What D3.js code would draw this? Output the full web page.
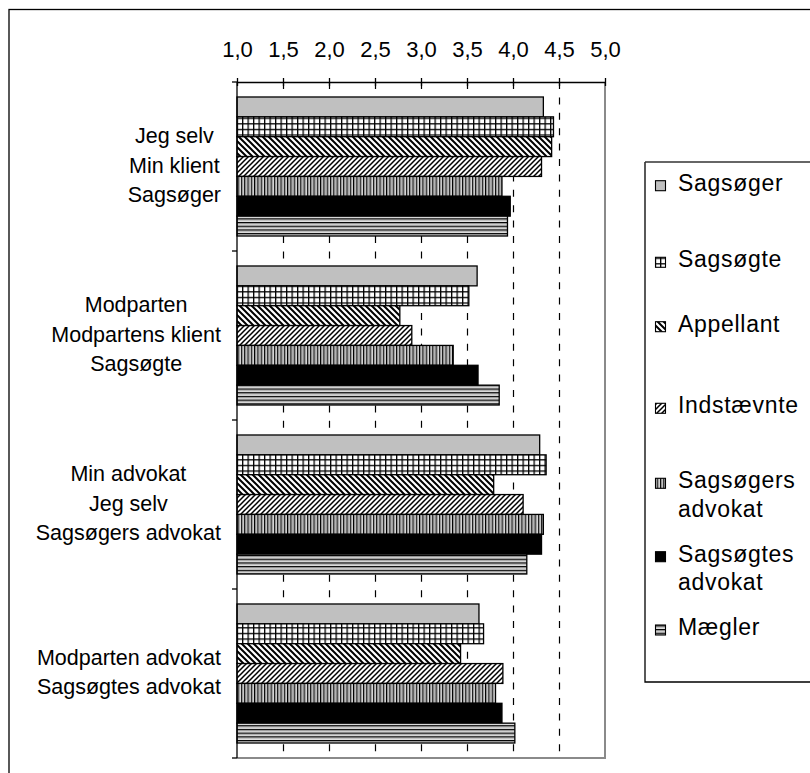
<!DOCTYPE html>
<html><head><meta charset="utf-8">
<script src="https://cdn.jsdelivr.net/npm/d3@7"></script>
<style>
html,body{margin:0;padding:0;background:#fff;}
svg{display:block;font-family:"Liberation Sans",Arial,sans-serif;}
</style></head>
<body><svg id="c" width="810" height="773"></svg>
<script>
// ---- data ----
const categories = ["Jeg selv\nMin klient\nSagsøger", "Modparten\nModpartens klient\nSagsøgte", "Min advokat\nJeg selv\nSagsøgers advokat", "Modparten advokat\nSagsøgtes advokat"];
const seriesNames = ["Sagsøger", "Sagsøgte", "Appellant", "Indstævnte", "Sagsøgers advokat", "Sagsøgtes advokat", "Mægler"];
const legendLabels = ["Sagsøger", "Sagsøgte", "Appellant", "Indstævnte", "Sagsøgers\nadvokat", "Sagsøgtes\nadvokat", "Mægler"];
const sagsoger     = [4.33, 3.61, 4.29, 3.63];
const sagsogte     = [4.44, 3.52, 4.36, 3.68];
const appellant    = [4.42, 2.77, 3.79, 3.43];
const indstaevnte  = [4.31, 2.90, 4.11, 3.89];
const sagsogersAdv = [3.88, 3.35, 4.33, 3.81];
const sagsogtesAdv = [3.97, 3.62, 4.31, 3.88];
const maegler      = [3.94, 3.85, 4.15, 4.02];
const tickValues = [1.0, 1.5, 2.0, 2.5, 3.0, 3.5, 4.0, 4.5, 5.0];
const tickLabels = ["1,0", "1,5", "2,0", "2,5", "3,0", "3,5", "4,0", "4,5", "5,0"];

const seriesValues = [sagsoger, sagsogte, appellant, indstaevnte, sagsogersAdv, sagsogtesAdv, maegler];
const fills = ["#c0c0c0", "url(#pGrid)", "url(#pBack)", "url(#pFwd)", "url(#pVert)", "#000", "url(#pHoriz)"];

// ---- layout ----
const svg = d3.select("#c");
const plot = {left: 237, right: 605, top: 82, bottom: 758};

// patterns
const defs = svg.append("defs");
function pat(id, w, h, draw) {
  const p = defs.append("pattern").attr("id", id).attr("patternUnits", "userSpaceOnUse")
    .attr("width", w).attr("height", h);
  draw(p);
}
pat("pGrid", 5.5, 5.6, p => {
  p.append("rect").attr("width", 5.5).attr("height", 5.6).attr("fill", "#fff");
  p.append("rect").attr("x", 0).attr("y", 0).attr("width", 1.3).attr("height", 5.6).attr("fill", "#000");
  p.append("rect").attr("x", 0).attr("y", 0).attr("width", 5.5).attr("height", 1.3).attr("fill", "#000");
});
pat("pBack", 6, 6, p => {
  p.append("rect").attr("width", 6).attr("height", 6).attr("fill", "#fff");
  p.append("path").attr("d", "M-1,-1L7,7M-4,2L2,8M4,-2L10,4").attr("stroke", "#000").attr("stroke-width", 2);
});
pat("pFwd", 5, 5, p => {
  p.append("rect").attr("width", 5).attr("height", 5).attr("fill", "#fff");
  p.append("path").attr("d", "M-1,6L6,-1M-3,3L3,-3M2,8L8,2").attr("stroke", "#000").attr("stroke-width", 1.5);
});
pat("pVert", 3.3, 10, p => {
  p.append("rect").attr("width", 3.3).attr("height", 10).attr("fill", "#d8d8d8");
  p.append("rect").attr("x", 0).attr("width", 1.1).attr("height", 10).attr("fill", "#000");
  p.append("rect").attr("x", 1.1).attr("width", 1).attr("height", 10).attr("fill", "#888");
});
pat("pHoriz", 10, 3.7, p => {
  p.append("rect").attr("width", 10).attr("height", 3.7).attr("fill", "#e0e0e0");
  p.append("rect").attr("y", 0).attr("width", 10).attr("height", 1.1).attr("fill", "#000");
  p.append("rect").attr("y", 1.1).attr("width", 10).attr("height", 1).attr("fill", "#888");
});

// chart area border (extends beyond the picture on right/bottom)
svg.append("rect").attr("x", 9).attr("y", 9.5).attr("width", 850).attr("height", 800)
  .attr("fill", "#fff").attr("stroke", "#000").attr("stroke-width", 1.3);

const x = d3.scaleLinear().domain([1, 5]).range([plot.left, plot.right]);
const y0 = d3.scaleBand().domain(d3.range(categories.length)).range([plot.top, plot.bottom]).padding(0);
const y1 = d3.scaleBand().domain(d3.range(seriesNames.length)).range([0, y0.bandwidth()])
  .paddingInner(0).paddingOuter(0.755);

// plot area
svg.append("rect").attr("x", plot.left).attr("y", plot.top)
  .attr("width", plot.right - plot.left).attr("height", plot.bottom - plot.top).attr("fill", "#fff");

// gridlines
svg.append("g").selectAll("line").data(tickValues.filter(v => v > 1 && v < 5)).join("line")
  .attr("x1", d => Math.round(x(d)) + 0.5).attr("x2", d => Math.round(x(d)) + 0.5)
  .attr("y1", plot.top).attr("y2", plot.bottom)
  .attr("stroke", "#000").attr("stroke-width", 1.2).attr("stroke-dasharray", "7 8.4");

// plot border right/bottom
svg.append("path").attr("d", `M${plot.right},${plot.top}V${plot.bottom}H${plot.left}`)
  .attr("fill", "none").attr("stroke", "#8a8a8a").attr("stroke-width", 2);

// bars
const gBars = svg.append("g");
categories.forEach((c, ci) => {
  seriesValues.forEach((vals, si) => {
    gBars.append("rect")
      .attr("x", x(1)).attr("y", y0(ci) + y1(si))
      .attr("width", x(vals[ci]) - x(1)).attr("height", y1.bandwidth())
      .attr("fill", fills[si]).attr("stroke", "#000").attr("stroke-width", 1.3);
  });
});

// top value axis
const xAxis = d3.axisTop(x).tickValues(tickValues).tickSize(0).tickFormat((d, i) => tickLabels[i]);
const ga = svg.append("g").attr("transform", `translate(0,${plot.top})`).call(xAxis);
ga.select(".domain").attr("stroke", "#000").attr("stroke-width", 1.3);
ga.selectAll(".tick text").attr("font-size", 22).attr("fill", "#000")
  .attr("font-family", '"Liberation Sans",Arial,sans-serif').attr("y", -25).attr("dy", 0);
ga.selectAll(".tick").append("line").attr("y1", -4).attr("y2", 4).attr("stroke", "#000").attr("stroke-width", 1.3);

// category axis
svg.append("line").attr("x1", plot.left).attr("x2", plot.left).attr("y1", plot.top).attr("y2", plot.bottom)
  .attr("stroke", "#000").attr("stroke-width", 1.3);
const bounds = d3.range(categories.length + 1).map(i => plot.top + i * y0.step());
svg.append("g").selectAll("line").data(bounds).join("line")
  .attr("x1", plot.left - 5).attr("x2", plot.left).attr("y1", d => d).attr("y2", d => d)
  .attr("stroke", "#000").attr("stroke-width", 1.3);

// category labels: block right-aligned, lines centered
const lineH = 29.5;
categories.forEach((c, ci) => {
  const lines = c.split("\n");
  const g = svg.append("g");
  const texts = lines.map((ln, li) => g.append("text").text(ln)
    .attr("font-size", 21.5).attr("fill", "#000")
    .attr("y", y0(ci) + y0.bandwidth() / 2 + (li - (lines.length - 1) / 2) * lineH + 6));
  const maxW = d3.max(texts, t => t.node().getComputedTextLength());
  const cx = 221 - maxW / 2;
  texts.forEach(t => t.attr("x", cx).attr("text-anchor", "middle"));
});

// legend
svg.append("path").attr("d", "M645,162V682H830").attr("fill", "none").attr("stroke", "#000").attr("stroke-width", 1.3);
svg.append("line").attr("x1", 645).attr("x2", 830).attr("y1", 162).attr("y2", 162).attr("stroke", "#333").attr("stroke-width", 1.3);
const legendBase = [190.7, 267.3, 331.7, 413.3, 488.3, 561.7, 635];
legendLabels.forEach((lab, i) => {
  const by = legendBase[i];
  svg.append("rect").attr("x", 655.5).attr("y", by - 10).attr("width", 10).attr("height", 10)
    .attr("fill", fills[i]).attr("stroke", "#000").attr("stroke-width", 1.1);
  lab.split("\n").forEach((ln, li) => {
    svg.append("text").text(ln).attr("x", 678).attr("y", by + li * 28.6)
      .attr("font-size", 23).attr("letter-spacing", 0.7).attr("fill", "#000");
  });
});
</script></body></html>
